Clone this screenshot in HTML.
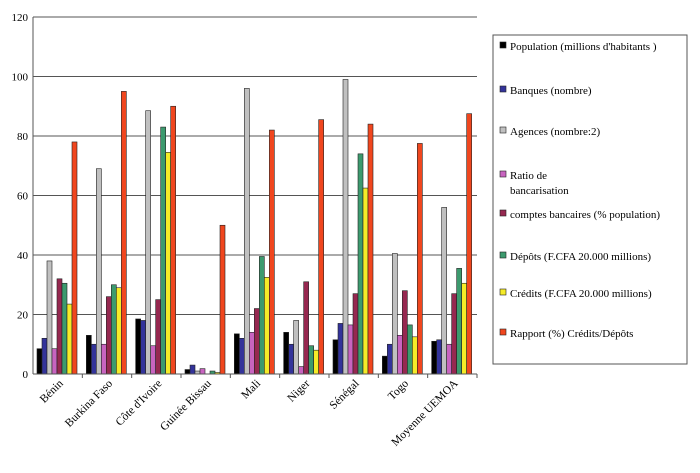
<!DOCTYPE html>
<html><head><meta charset="utf-8"><style>
body{margin:0;background:#fff;}
svg text{font-family:"Liberation Serif",serif;fill:#000;}
</style></head><body>
<svg width="700" height="468" viewBox="0 0 700 468">
<g id="grid"></g>
<g id="bars"></g>
<g id="axes"></g>
<g id="legend"></g>
</svg>
<script>
const categories=["Bénin","Burkina Faso","Côte d'Ivoire","Guinée Bissau","Mali","Niger","Sénégal","Togo","Moyenne UEMOA"];
const seriesNames=["Population (millions d'habitants )","Banques (nombre)","Agences (nombre:2)","Ratio de bancarisation","comptes bancaires (% population)","Dépôts (F.CFA 20.000 millions)","Crédits (F.CFA 20.000 millions)","Rapport (%) Crédits/Dépôts"];
const population=[8.5,13,18.5,1.5,13.5,14,11.5,6,11];
const banques=[12,10,18,3,12,10,17,10,11.5];
const agences=[38,69,88.5,1,96,18,99,40.5,56];
const ratio=[8.5,10,9.5,1.8,14,2.5,16.5,13,10];
const comptes=[32,26,25,0,22,31,27,28,27];
const depots=[30.5,30,83,1,39.5,9.5,74,16.5,35.5];
const credits=[23.5,29,74.5,0.5,32.5,8,62.5,12.5,30.5];
const rapport=[78,95,90,50,82,85.5,84,77.5,87.5];
const yTicks=[0,20,40,60,80,100,120];
const seriesData=[population,banques,agences,ratio,comptes,depots,credits,rapport];
const colors=["#000000","#33339a","#c0c0c0","#c864c0","#962850","#3c9a6e","#f5eb28","#f0461e"];
const NS="http://www.w3.org/2000/svg";
const L=33,R=477,T=17,B=374;
const y=v=>B-(v/120)*(B-T);
const gw=(R-L)/categories.length;
function mk(t,a,p){const e=document.createElementNS(NS,t);for(const k in a)e.setAttribute(k,a[k]);p.appendChild(e);return e;}
const grid=document.getElementById('grid'),bars=document.getElementById('bars'),axes=document.getElementById('axes'),leg=document.getElementById('legend');
yTicks.forEach(t=>{
 const ln=mk('line',{x1:L,x2:R,y1:y(t),y2:y(t),stroke:'#555','stroke-width':1},grid);
 
 
 const tx=mk('text',{x:L-5,y:y(t)+4,'text-anchor':'end','font-size':11},axes);
 tx.textContent=t;
 
 
});
mk('line',{x1:L,x2:L,y1:T,y2:B,stroke:'#555'},axes);
mk('line',{x1:L,x2:R,y1:B,y2:B,stroke:'#555'},axes);
const bw=5;
categories.forEach((c,i)=>{
 const gx=L+i*gw+4;
 seriesData.forEach((s,j)=>{
  const v=s[i];
  const r=mk('rect',{x:gx+j*bw,y:y(v),width:bw,height:Math.max(0,B-y(v)),fill:colors[j],stroke:'#222','stroke-width':0.6},bars);
  
  
 });
 const tx=L+(i+1)*gw;
 mk('line',{x1:tx,x2:tx,y1:B,y2:B+4,stroke:'#555'},axes);
 const lx=L+i*gw+gw/2+6, ly=B+10;
 const t=mk('text',{x:lx,y:ly,'text-anchor':'end','font-size':11.5,transform:`rotate(-45 ${lx} ${ly})`},axes);
 t.textContent=c;
 
 
});
mk('rect',{x:493,y:35,width:194,height:329,fill:'#fff',stroke:'#555'},leg);
const ly=[46,90,131,175,214,256,293,333];
const lyl=[[46],[90],[131],[170,186],[214],[256],[293],[333]];
seriesNames.forEach((n,j)=>{
 const sw=mk('rect',{x:500,y:ly[j]-4,width:6,height:6,fill:colors[j],stroke:'#222','stroke-width':0.6},leg);
 
 
 const parts=j===3?["Ratio de","bancarisation"]:[n];
 parts.forEach((p,k)=>{
  const t=mk('text',{x:510,y:(j===3?ly[j]+k*15:ly[j])+4,'font-size':11},leg);
  t.textContent=p;
  
  
 });
});
</script>
</body></html>
